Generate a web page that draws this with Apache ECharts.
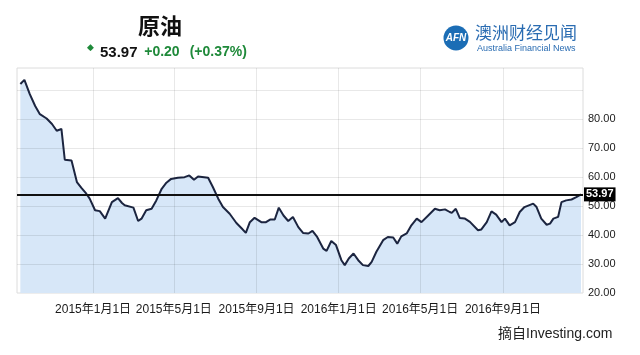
<!DOCTYPE html>
<html>
<head>
<meta charset="utf-8">
<script src="https://cdn.jsdelivr.net/npm/echarts@6/dist/echarts.min.js"></script>
<style>
html,body{margin:0;padding:0;background:#fff;}
#c{width:640px;height:355px;}
</style>
</head>
<body>
<div id="c"></div>
<script>
var dates = ['2014-09-15','2014-09-21','2014-09-29','2014-10-07','2014-10-14','2014-10-24','2014-11-01','2014-11-08','2014-11-15','2014-11-20','2014-11-30','2014-12-08','2014-12-15','2014-12-22','2014-12-27',
'2015-01-04','2015-01-11','2015-01-19','2015-01-29','2015-02-07','2015-02-13','2015-02-17','2015-03-02','2015-03-09','2015-03-14','2015-03-21','2015-03-29','2015-04-05','2015-04-13','2015-04-20','2015-04-27','2015-05-07','2015-05-17','2015-05-24','2015-05-31','2015-06-06','2015-06-21','2015-06-28','2015-07-06','2015-07-13','2015-07-23','2015-08-02','2015-08-10','2015-08-16','2015-08-22','2015-08-29','2015-09-08','2015-09-15','2015-09-21','2015-09-28','2015-10-04','2015-10-11','2015-10-18','2015-10-25','2015-11-02','2015-11-09','2015-11-17','2015-11-23','2015-11-30','2015-12-09','2015-12-14','2015-12-21','2015-12-28',
'2016-01-05','2016-01-10','2016-01-16','2016-01-23','2016-01-30','2016-02-06','2016-02-14','2016-02-19','2016-02-26','2016-03-07','2016-03-14','2016-03-22','2016-03-28','2016-04-03','2016-04-11','2016-04-18','2016-04-26','2016-05-03','2016-05-13','2016-05-23','2016-05-30','2016-06-07','2016-06-14','2016-06-17','2016-06-23','2016-06-29','2016-07-06','2016-07-14','2016-07-26','2016-07-31','2016-08-08','2016-08-15','2016-08-22','2016-08-30','2016-09-04','2016-09-11','2016-09-19','2016-09-26','2016-10-03','2016-10-16','2016-10-21','2016-10-28','2016-11-05','2016-11-10','2016-11-15','2016-11-22','2016-11-27','2016-12-04','2016-12-12','2016-12-19','2016-12-26'];
var prices = [92.0,93.4,88.5,84.4,81.6,80.1,78.2,75.9,76.5,65.9,65.6,58.2,56.1,54.2,52.5,
48.5,48.2,45.6,51.3,52.7,51.0,50.2,49.4,44.8,45.6,48.5,49.0,51.9,55.9,58.0,59.3,59.7,59.9,60.5,59.0,60.1,59.7,56.5,52.5,49.6,47.3,44.1,42.2,40.7,44.4,45.9,44.4,44.4,45.3,45.3,49.4,46.7,44.8,46.2,42.7,40.7,40.5,41.4,39.3,35.3,34.5,37.9,36.5,
31.3,29.6,31.9,33.6,31.3,29.6,29.3,30.7,34.2,38.2,39.3,39.1,37.0,39.5,40.5,43.3,45.6,44.4,46.7,49.0,48.5,48.8,47.9,47.6,49.0,45.8,45.7,44.5,41.6,41.9,44.4,48.1,47.0,44.4,45.6,43.3,44.4,47.9,49.6,50.8,49.6,45.6,43.5,43.9,45.6,46.2,51.3,51.9,52.2,53.0,53.97];
var tickDates = ['2015-01-01','2015-05-01','2015-09-01','2016-01-01','2016-05-01','2016-09-01'];
var tickLabels = ['2015年1月1日','2015年5月1日','2015年9月1日','2016年1月1日','2016年5月1日','2016年9月1日'];
var yGridValues = [30, 40, 50, 60, 70, 80, 90];
var lastPrice = 53.97;

var font = '"Liberation Sans", Arial, "Noto Sans CJK SC", sans-serif';
var chart = echarts.init(document.getElementById('c'));
var data = dates.map(function(d,i){return [d, prices[i]];});

var gridLines = tickDates.map(function(d,i){
  return {xAxis: d, label: {show: true, position: 'start', formatter: tickLabels[i]}};
}).concat(yGridValues.map(function(v){
  return {yAxis: v, label: {show: false}};
}));

chart.setOption({
  animation: false,
  textStyle: {fontFamily: font},
  grid: {left: 17, right: 57, top: 68, bottom: 62, show: true, borderColor: '#dcdcdc', borderWidth: 1},
  xAxis: {
    type: 'time',
    min: '2014-09-10',
    max: '2016-12-29',
    axisLabel: {show: false},
    axisTick: {show: false},
    axisLine: {show: false},
    splitLine: {show: false}
  },
  yAxis: {
    type: 'value',
    position: 'right',
    min: 20, max: 97.5, interval: 10,
    axisLine: {show: false},
    axisTick: {show: false},
    splitLine: {show: false},
    axisLabel: {
      margin: 5, color: '#1a1a1a', fontSize: 11, fontFamily: font,
      formatter: function(v){ return v >= 90 ? '' : v.toFixed(2); }
    }
  },
  series: [{
    type: 'line',
    data: data,
    symbol: 'none',
    lineStyle: {width: 0, opacity: 0},
    areaStyle: {color: '#d7e7f8', opacity: 1},
    z: 1
  }, {
    type: 'line',
    data: [],
    markLine: {
      silent: true,
      symbol: ['none','none'],
      lineStyle: {color: 'rgba(0,0,0,0.09)', width: 1, type: 'solid'},
      label: {distance: 11, color: '#1a1a1a', fontSize: 12, fontFamily: font},
      data: gridLines
    },
    z: 2
  }, {
    type: 'line',
    data: data,
    symbol: 'none',
    lineStyle: {color: '#1c2540', width: 2},
    markLine: {
      silent: true,
      symbol: ['none','none'],
      data: [{yAxis: lastPrice, label: {
        show: true, position: 'end', distance: 1, formatter: lastPrice.toFixed(2),
        backgroundColor: '#000', color: '#fff', fontWeight: 'bold', fontSize: 11, padding: [2,2,1,2], fontFamily: font
      }, lineStyle: {color: '#111', width: 2, type: 'solid'}}]
    },
    z: 3
  }],
  graphic: [
    {type: 'text', left: 138, top: 15, style: {text: '原油', fontSize: 22, fontFamily: '"Noto Sans CJK SC", sans-serif', fill: '#111', fontWeight: 'bold'}},
    {type: 'text', left: 87, top: 43, style: {text: '◆', fontSize: 9, fill: '#1f8a3a'}},
    {type: 'text', left: 100, top: 45, style: {text: '{a|53.97}  {b|+0.20}   {b|(+0.37%)}', rich: {
      a: {fontSize: 15, fontWeight: 'bold', fill: '#111', color: '#111', fontFamily: font},
      b: {fontSize: 14, fontWeight: 'bold', fill: '#1f8a3a', color: '#1f8a3a', fontFamily: font}
    }}},
    {type: 'circle', shape: {cx: 456, cy: 38, r: 12.5}, style: {fill: '#1b6db5'}},
    {type: 'text', x: 456, y: 38, style: {text: 'AFN', fontSize: 10, fontWeight: 'bold', fontStyle: 'italic', fill: '#fff', align: 'center', verticalAlign: 'middle', fontFamily: font}},
    {type: 'text', left: 475, top: 24, style: {text: '澳洲财经见闻', fontSize: 17, fill: '#2a6cb2', fontFamily: '"Noto Sans CJK SC", sans-serif'}},
    {type: 'text', left: 477, top: 44, style: {text: 'Australia Financial News', fontSize: 9, fill: '#2a6cb2', fontFamily: font}},
    {type: 'text', left: 498, top: 327, style: {text: '摘自Investing.com', fontSize: 14, fill: '#222', fontFamily: font}}
  ]
});
</script>
</body>
</html>
